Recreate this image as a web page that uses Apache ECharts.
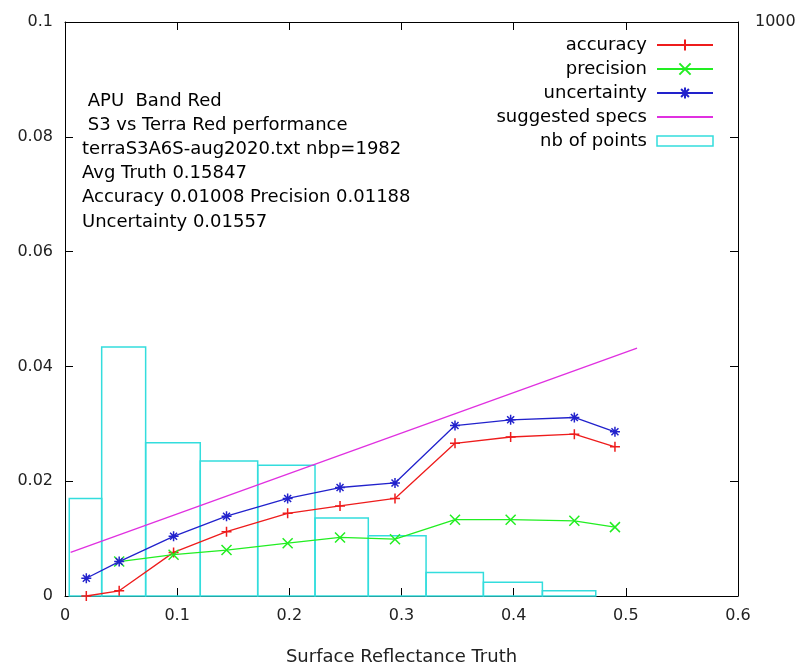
<!DOCTYPE html>
<html><head><meta charset="utf-8">
<script src="https://cdn.jsdelivr.net/npm/echarts@6/dist/echarts.min.js"></script>
<style>html,body{margin:0;padding:0;background:#fff}#c{width:802px;height:671px}</style>
</head><body><div id="c"></div>
<script>
// ---- data ----
const xPoints = [0.0190, 0.0483, 0.0968, 0.1440, 0.1985, 0.2452, 0.2942, 0.3477, 0.3973, 0.4541, 0.4903];
const accuracy = [0.0000, 0.0009, 0.0076, 0.0112, 0.0144, 0.0157, 0.0170, 0.0266, 0.0277, 0.0282, 0.0260];
const precision = [null, 0.0060, 0.0072, 0.0080, 0.0092, 0.0102, 0.0099, 0.0133, 0.0133, 0.0131, 0.0120];
const uncertainty = [0.0031, 0.0060, 0.0104, 0.0139, 0.0170, 0.0189, 0.0197, 0.0297, 0.0307, 0.0311, 0.0286];
const specX = [0.005, 0.51];
const specY = [0.0076, 0.0432];
const binEdges = [0.0038, 0.0327, 0.0719, 0.1206, 0.1718, 0.2229, 0.2704, 0.3219, 0.3730, 0.4256, 0.4732];
const binCounts = [170, 434, 267, 235, 228, 136, 105, 41, 24, 9];
const infoLines = [" APU  Band Red", " S3 vs Terra Red performance", "terraS3A6S-aug2020.txt nbp=1982", "Avg Truth 0.15847", "Accuracy 0.01008 Precision 0.01188", "Uncertainty 0.01557"];

// ---- build ----
const FONT = 'DejaVu Sans';
const FS = 18;
const TFS = 16;
const C = {acc:'#ee1c1c', prec:'#22ee22', unc:'#2222cc', spec:'#e030e0', hist:'#33dddd'};
const zip = (xs, ys) => xs.map((x, i) => [x, ys[i]]);
const histData = binCounts.map((c, i) => [binEdges[i], binEdges[i+1], c]);

const plusPath = 'path://M5,0L5,10M0,5L10,5';
const crossPath = 'path://M0,0L10,10M10,0L0,10';
const starPath = 'path://M5,0L5,10M0,5L10,5M1.5,1.5L8.5,8.5M8.5,1.5L1.5,8.5';

function lineSeries(name, data, color, sym) {
  return {
    name, type:'line', data, xAxisIndex:0, yAxisIndex:0,
    symbol: sym, symbolSize: 10, showAllSymbol: true,
    connectNulls: false,
    color,
    lineStyle:{color, width:1.3},
    itemStyle:{color:'rgba(0,0,0,0)', borderColor:color, borderWidth:1.5},
    emphasis:{disabled:true}, animation:false, z:5
  };
}

const axisCommon = {
  axisLine:{show:true, onZero:false, lineStyle:{color:'#000', width:1}},
  axisTick:{show:true, inside:true, length:8, lineStyle:{color:'#000'}},
  splitLine:{show:false},
  axisLabel:{color:'#222', fontFamily:FONT, fontSize:TFS}
};

const option = {
  animation:false,
  backgroundColor:'#fff',
  grid:{left:65, right:64, top:22, bottom:74, show:false},
  legend:{
    orient:'vertical', right:83, top:31, align:'right',
    itemWidth:56, itemHeight:14, itemGap:6,
    textStyle:{fontFamily:FONT, fontSize:FS, color:'#000', lineHeight:18, padding:[0,5,0,0]},
    selectedMode:false,
    data:[
      {name:'accuracy'}, {name:'precision'}, {name:'uncertainty'},
      {name:'suggested specs', itemStyle:{opacity:0}},
      {name:'nb of points', icon:'path://M0,0h56v10h-56z', itemStyle:{color:'rgba(0,0,0,0)', borderColor:C.hist, borderWidth:1.5}}
    ]
  },
  xAxis:[
    Object.assign({}, axisCommon, {type:'value', min:0, max:0.6, interval:0.1, position:'bottom',
      name:'Surface Reflectance Truth', nameLocation:'middle', nameGap:52,
      nameTextStyle:{fontFamily:FONT, fontSize:FS, color:'#222'},
      axisLabel:Object.assign({}, axisCommon.axisLabel, {margin:12, formatter:v=>String(+v.toFixed(1))})}),
    Object.assign({}, axisCommon, {type:'value', min:0, max:0.6, interval:0.1, position:'top',
      axisLabel:{show:false}})
  ],
  yAxis:[
    Object.assign({}, axisCommon, {type:'value', min:0, max:0.1, interval:0.02, position:'left',
      axisLabel:Object.assign({}, axisCommon.axisLabel, {margin:12, formatter:v=>String(+v.toFixed(2))})}),
    Object.assign({}, axisCommon, {type:'value', min:0, max:1000, interval:200, position:'right',
      axisLabel:Object.assign({}, axisCommon.axisLabel, {margin:17, formatter:v=>v===1000?'1000':''})})
  ],
  graphic: infoLines.map((t, i) => ({
    type:'text', left:82, top:92 + i*24.2, silent:true,
    style:{text:t, fill:'#000', font:FS + 'px "DejaVu Sans"'}
  })),
  series:[
    lineSeries('accuracy', zip(xPoints, accuracy), C.acc, plusPath),
    lineSeries('precision', zip(xPoints, precision), C.prec, crossPath),
    lineSeries('uncertainty', zip(xPoints, uncertainty), C.unc, starPath),
    {name:'suggested specs', type:'line', data:zip(specX, specY), symbol:'none', color:C.spec,
      lineStyle:{color:C.spec, width:1.3}, emphasis:{disabled:true}, z:4},
    {name:'nb of points', type:'custom', xAxisIndex:0, yAxisIndex:1, data:histData,
      color:C.hist,
      encode:{x:[0,1], y:2},
      renderItem:(params, api) => {
        const p0 = api.coord([api.value(0), api.value(2)]);
        const p1 = api.coord([api.value(1), 0]);
        return {type:'rect', shape:{x:p0[0], y:p0[1], width:p1[0]-p0[0], height:p1[1]-p0[1]},
          style:{fill:'none', stroke:C.hist, lineWidth:1.5}};
      }, z:3}
  ]
};
const chart = echarts.init(document.getElementById('c'), null, {renderer:'canvas'});
chart.setOption(option);
</script></body></html>
